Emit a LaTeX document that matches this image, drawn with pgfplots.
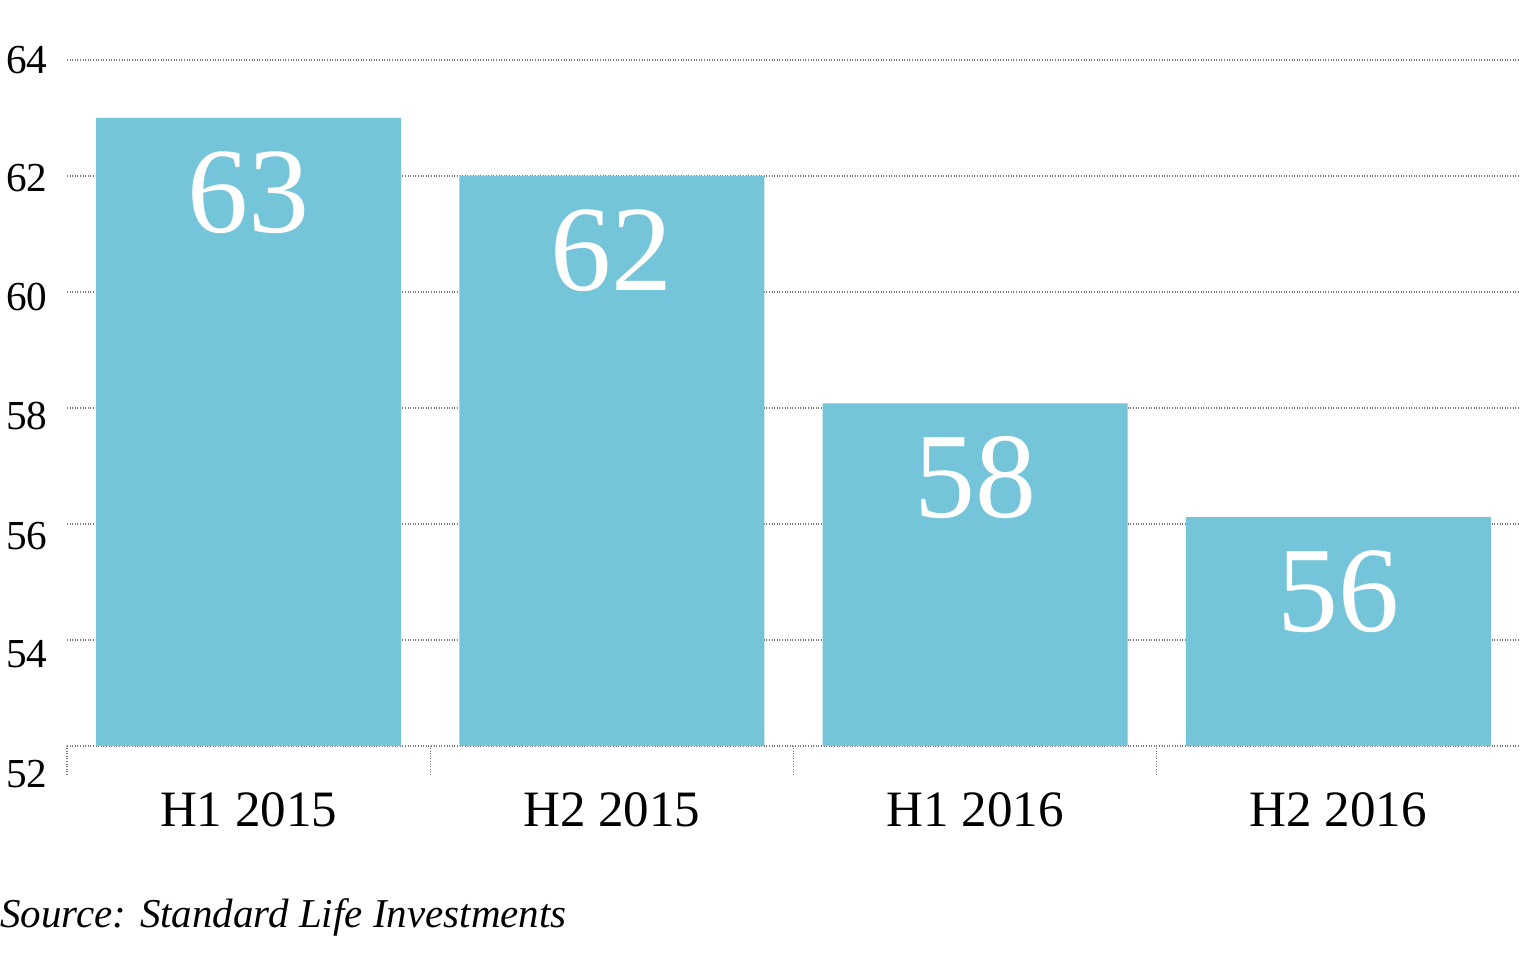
\documentclass[border=0pt]{standalone}
\usepackage{pgfplots}
\pgfplotsset{compat=1.18}
\usepackage{fontspec}
\setmainfont{Liberation Serif}
\definecolor{barblue}{RGB}{117,197,218}
\definecolor{gridgray}{RGB}{120,120,120}
\begin{document}
\begin{tikzpicture}
\path[use as bounding box] (-33.5pt,-106pt) rectangle ++(761.5pt,479pt);
\begin{axis}[
  at={(0pt,0pt)}, anchor=south west,
  scale only axis,
  width=726.5pt, height=343pt,
  xmin=-0.5, xmax=3.5,
  ymin=52.172, ymax=64,
  axis line style={draw=none},
  clip=false,
  tick pos=left,
  xtick={0,1,2,3},
  xticklabels={H1 2015,H2 2015,H1 2016,H2 2016},
  xticklabel style={font=\fontsize{25.5pt}{28pt}\selectfont, anchor=north, inner sep=0pt, yshift=-23pt},
  ytick={64,61.97,59.91,57.86,55.79,53.76},
  yticklabels={64,62,60,58,56,54},
  yticklabel style={font=\fontsize{20.6pt}{23pt}\selectfont, anchor=east, inner sep=0pt, xshift=-9.5pt},
  /pgf/number format/assume math mode=true,
  major tick length=0pt,
  extra y ticks={52.172,54,56,58,60,62,64},
  extra y tick labels={},
  extra y tick style={grid=major, major tick length=0pt},
  major grid style={draw=gridgray, line width=0.6pt, dash pattern=on 0.5pt off 0.8pt},
  extra x ticks={-0.5,0.5,1.5,2.5},
  extra x tick labels={},
  extra x tick style={major tick length=14.5pt, tick align=outside,
     major tick style={draw=gridgray, line width=0.6pt, dash pattern=on 0.5pt off 0.8pt}},
  ybar, bar width=0.84,
  nodes near coords={\pgfmathprintnumber[fixed,precision=0]{\pgfplotspointmeta}},
  nodes near coords style={font=\fontsize{61pt}{64pt}\selectfont, text=white, anchor=north, inner sep=0pt, yshift=-16.5pt},
]
\addplot[fill=barblue, draw=none] coordinates {(0,63) (1,62) (2,58.08) (3,56.12)};
\node[font=\fontsize{20.6pt}{23pt}\selectfont, anchor=east, inner sep=0pt, xshift=-9.5pt] at (axis cs:-0.5,51.69) {52};
\end{axis}
\node[anchor=base west, inner sep=0pt, font=\fontsize{20.5pt}{23pt}\selectfont\itshape] at (-33.5pt,-91pt) {Source: Standard Life Investments};
\end{tikzpicture}
\end{document}
